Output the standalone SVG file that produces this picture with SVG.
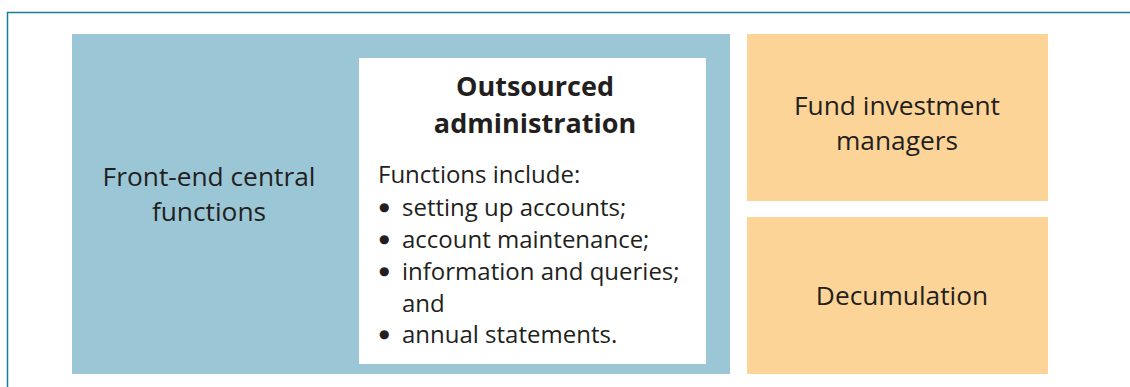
<svg xmlns="http://www.w3.org/2000/svg" width="1130" height="387" viewBox="0 0 1130 387">
<style>
.t{font-family:"Open Sans","Noto Sans","Liberation Sans",sans-serif;font-size:24px;fill:#231f20}
.l{font-size:26.3px}
.c{text-anchor:middle}
.b{font-weight:bold;font-size:27px}
.bu{font-family:"DejaVu Sans",sans-serif;font-size:12px}
.blue{fill:#9ac6d6}
.orange{fill:#fdd497}
</style>
<rect width="1130" height="387" fill="#ffffff"/>
<path d="M7.5 387 V12.5 H1130" fill="none" stroke="#1b7c99" stroke-width="1.5"/>
<g id="front-end">
<rect class="blue" x="72" y="34" width="658" height="340"/>
<text class="t l c" x="209" y="186">Front-end central</text>
<text class="t l c" x="209" y="221">functions</text>
</g>
<g id="outsourced">
<rect x="359" y="58" width="347" height="306" fill="#ffffff"/>
<text class="t c b" x="535" y="96">Outsourced</text>
<text class="t c b" x="535" y="133">administration</text>
<text class="t" x="378" y="183">Functions include:</text>
<text class="t" x="379" y="216"><tspan class="bu" x="379" y="211">●</tspan><tspan x="402" y="216">setting up accounts;</tspan></text>
<text class="t" x="379" y="248"><tspan class="bu" x="379" y="243">●</tspan><tspan x="402" y="248">account maintenance;</tspan></text>
<text class="t" x="379" y="280"><tspan class="bu" x="379" y="275">●</tspan><tspan x="402" y="280">information and queries;</tspan></text>
<text class="t" x="402" y="312">and</text>
<text class="t" x="379" y="343"><tspan class="bu" x="379" y="338">●</tspan><tspan x="402" y="343">annual statements.</tspan></text>
</g>
<g id="fund-managers">
<rect class="orange" x="747" y="34" width="301" height="167"/>
<text class="t l c" x="897" y="115">Fund investment</text>
<text class="t l c" x="897" y="150">managers</text>
</g>
<g id="decumulation">
<rect class="orange" x="747" y="217" width="301" height="157"/>
<text class="t l c" x="902" y="305">Decumulation</text>
</g>
<g id="connectors"/>
</svg>
